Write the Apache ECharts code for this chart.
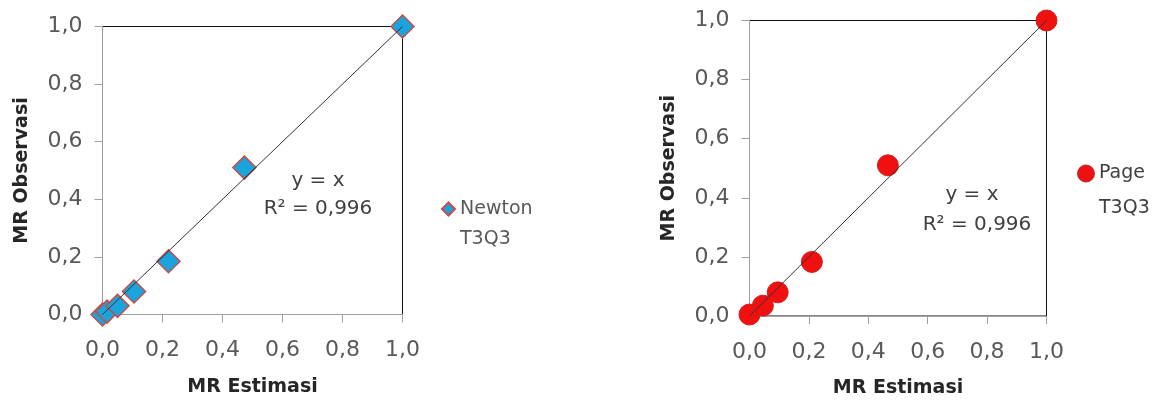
<!DOCTYPE html>
<html>
<head>
<meta charset="utf-8">
<script src="https://cdn.jsdelivr.net/npm/echarts@6/dist/echarts.min.js"></script>
<style>
html,body{margin:0;padding:0;background:#fff;}
#c{width:1163px;height:403px;}
</style>
</head>
<body>
<div id="c"></div>
<script>
// Data
var tickLabels = ['0,0', '0,2', '0,4', '0,6', '0,8', '1,0'];
var newtonEst = [0.0, 0.015, 0.05, 0.105, 0.22, 0.473, 1.0];
var newtonObs = [0.0, 0.01, 0.03, 0.08, 0.185, 0.51, 1.0];
var pageEst = [0.0, 0.045, 0.095, 0.21, 0.466, 1.0];
var pageObs = [0.005, 0.035, 0.08, 0.183, 0.51, 1.0];
var fitLine = [[0, 0], [1, 1]];
var seriesNames = ['Newton T3Q3', 'Page T3Q3'];
var annotation = ['y = x', 'R\u00b2 = 0,996'];

function pairs(xs, ys) { return xs.map(function (x, i) { return [x, ys[i]]; }); }
function fmt(v) { return v.toFixed(1).replace('.', ','); }

var FONT = 'DejaVu Sans';
var labelColor = '#595959';

function xAxisCfg(gi) {
  return {
    gridIndex: gi, type: 'value', min: 0, max: 1, interval: 0.2,
    name: 'MR Estimasi', nameLocation: 'middle', nameGap: 63,
    nameTextStyle: { fontFamily: FONT, fontSize: 19, fontWeight: 'bold', color: '#262626' },
    axisLine: { show: true, lineStyle: { color: '#a0a0a0', width: 1 } },
    axisTick: { show: true, inside: false, length: 8, lineStyle: { color: '#a0a0a0' } },
    axisLabel: { fontFamily: FONT, fontSize: 22, color: labelColor, margin: 25, formatter: fmt },
    splitLine: { show: false }
  };
}
function yAxisCfg(gi) {
  return {
    gridIndex: gi, type: 'value', min: 0, max: 1, interval: 0.2,
    name: 'MR Observasi', nameLocation: 'middle', nameGap: 71, nameRotate: 90,
    nameTextStyle: { fontFamily: FONT, fontSize: 19, fontWeight: 'bold', color: '#262626' },
    axisLine: { show: true, lineStyle: { color: '#a0a0a0', width: 1 } },
    axisTick: { show: true, inside: false, length: 8, lineStyle: { color: '#a0a0a0' } },
    axisLabel: { fontFamily: FONT, fontSize: 22, color: labelColor, margin: 20, formatter: fmt },
    splitLine: { show: false }
  };
}

var chart = echarts.init(document.getElementById('c'), null, { renderer: 'canvas' });
var option = {
  backgroundColor: '#ffffff',
  animation: false,
  grid: [
    { left: 102.5, top: 26.5, width: 300, height: 288, show: true, borderColor: '#111111', borderWidth: 1, backgroundColor: 'transparent' },
    { left: 749.5, top: 20.5, width: 297, height: 296, show: true, borderColor: '#111111', borderWidth: 1, backgroundColor: 'transparent' }
  ],
  xAxis: [xAxisCfg(0), xAxisCfg(1)],
  yAxis: [yAxisCfg(0), yAxisCfg(1)],
  legend: [
    {
      data: [{ name: seriesNames[0], icon: 'diamond' }],
      left: 441, top: 164, padding: 0, itemWidth: 13, itemHeight: 13,
      formatter: function (n) { return '\n' + n.replace(' ', '\n'); },
      textStyle: { fontFamily: FONT, fontSize: 19, color: labelColor, lineHeight: 30 }
    },
    {
      data: [{ name: seriesNames[1], icon: 'circle' }],
      left: 1077, top: 121, padding: 0, itemWidth: 16, itemHeight: 16,
      formatter: function (n) { return '\n' + n.replace(' ', '\n'); },
      textStyle: { fontFamily: FONT, fontSize: 19, color: '#404040', lineHeight: 35 }
    }
  ],
  series: [
    {
      name: seriesNames[0], type: 'scatter', xAxisIndex: 0, yAxisIndex: 0,
      symbol: 'diamond', symbolSize: 23, z: 2,
      itemStyle: { color: '#1aa3dd', borderColor: '#c0504d', borderWidth: 1.5, opacity: 1 },
      data: pairs(newtonEst, newtonObs)
    },
    {
      name: 'fit1', type: 'line', xAxisIndex: 0, yAxisIndex: 0, z: 5,
      showSymbol: false, symbol: 'none', silent: true,
      lineStyle: { color: '#333333', width: 1 },
      data: fitLine
    },
    {
      name: seriesNames[1], type: 'scatter', xAxisIndex: 1, yAxisIndex: 1,
      symbol: 'circle', symbolSize: 21, z: 2,
      itemStyle: { color: '#f0100f', borderColor: '#d02020', borderWidth: 1, opacity: 1 },
      data: pairs(pageEst, pageObs)
    },
    {
      name: 'fit2', type: 'line', xAxisIndex: 1, yAxisIndex: 1, z: 5,
      showSymbol: false, symbol: 'none', silent: true,
      lineStyle: { color: '#333333', width: 1 },
      data: fitLine
    }
  ],
  graphic: [
    { type: 'text', x: 318, y: 181, style: { text: annotation[0], fontFamily: FONT, fontSize: 20, fill: '#404040', align: 'center', verticalAlign: 'middle' } },
    { type: 'text', x: 318, y: 209, style: { text: annotation[1], fontFamily: FONT, fontSize: 20, fill: '#404040', align: 'center', verticalAlign: 'middle' } },
    { type: 'text', x: 972, y: 195, style: { text: annotation[0], fontFamily: FONT, fontSize: 20, fill: '#404040', align: 'center', verticalAlign: 'middle' } },
    { type: 'text', x: 977, y: 225, style: { text: annotation[1], fontFamily: FONT, fontSize: 20, fill: '#404040', align: 'center', verticalAlign: 'middle' } }
  ]
};
chart.setOption(option);
</script>
</body>
</html>
